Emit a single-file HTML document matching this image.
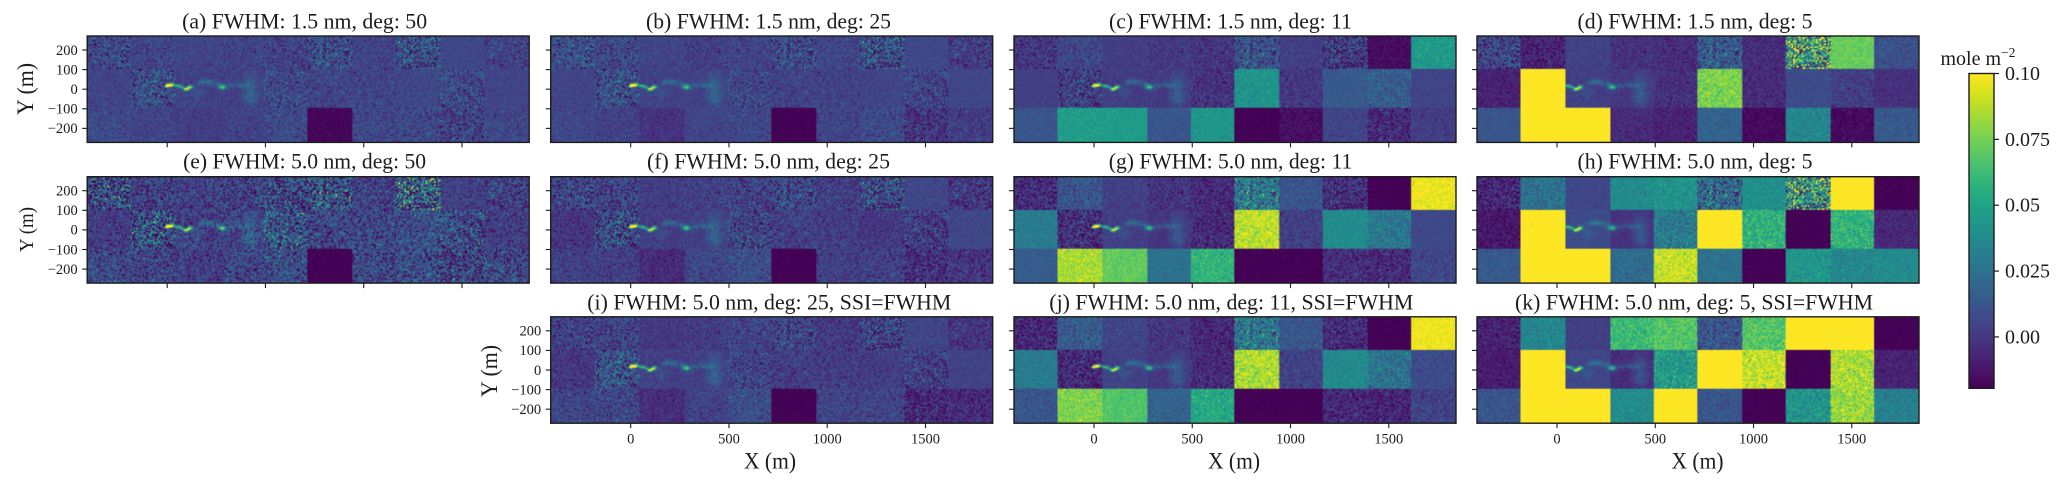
<!DOCTYPE html>
<html lang="en">
<head>
<meta charset="utf-8">
<title>Methane retrieval maps by FWHM and polynomial degree</title>
<style>
  html,body{margin:0;padding:0;background:#fff;}
  #figure{position:relative;width:2067px;height:485px;overflow:hidden;background:#fff;}
  #tile-layer,#overlay-layer{position:absolute;left:0;top:0;}
  #tile-layer{z-index:1;}
  canvas{position:absolute;z-index:2;}
  #overlay-layer{z-index:3;}
  text{font-family:"Liberation Serif",serif;fill:#1c1c1c;}
  .title{font-size:22px;text-anchor:middle;}
  .axis-label{font-size:23px;text-anchor:middle;}
  .tick-label{font-size:14.5px;}
  .cbar-label{font-size:20px;}
  .soft{filter:blur(0.3px);}
</style>
</head>
<body>
<div id="figure">
  <svg id="tile-layer" width="2067" height="485"></svg>
  <svg id="overlay-layer" width="2067" height="485">
    <defs><linearGradient id="cbar-gradient" x1="0" y1="1" x2="0" y2="0"></linearGradient></defs>
    <g id="axes-layer"></g>
    <g class="soft">
      <text class="title" x="304.6" y="28.3" textLength="245" lengthAdjust="spacingAndGlyphs">(a) FWHM: 1.5 nm, deg: 50</text>
      <text class="title" x="768.5" y="28.3" textLength="245" lengthAdjust="spacingAndGlyphs">(b) FWHM: 1.5 nm, deg: 25</text>
      <text class="title" x="1230.5" y="28.3" textLength="243" lengthAdjust="spacingAndGlyphs">(c) FWHM: 1.5 nm, deg: 11</text>
      <text class="title" x="1695" y="28.3" textLength="235" lengthAdjust="spacingAndGlyphs">(d) FWHM: 1.5 nm, deg: 5</text>
      <text class="title" x="304.6" y="168.3" textLength="243" lengthAdjust="spacingAndGlyphs">(e) FWHM: 5.0 nm, deg: 50</text>
      <text class="title" x="768.5" y="168.3" textLength="243" lengthAdjust="spacingAndGlyphs">(f) FWHM: 5.0 nm, deg: 25</text>
      <text class="title" x="1230.5" y="168.3" textLength="243.5" lengthAdjust="spacingAndGlyphs">(g) FWHM: 5.0 nm, deg: 11</text>
      <text class="title" x="1695" y="168.3" textLength="235" lengthAdjust="spacingAndGlyphs">(h) FWHM: 5.0 nm, deg: 5</text>
      <text class="title" x="769.3" y="309.7" textLength="364" lengthAdjust="spacingAndGlyphs">(i) FWHM: 5.0 nm, deg: 25, SSI=FWHM</text>
      <text class="title" x="1231.3" y="309.7" textLength="364" lengthAdjust="spacingAndGlyphs">(j) FWHM: 5.0 nm, deg: 11, SSI=FWHM</text>
      <text class="title" x="1694" y="309.7" textLength="358" lengthAdjust="spacingAndGlyphs">(k) FWHM: 5.0 nm, deg: 5, SSI=FWHM</text>
    </g>
    <g class="soft">
      <text class="axis-label" transform="translate(33,89) rotate(-90)" textLength="52" lengthAdjust="spacingAndGlyphs">Y (m)</text>
      <text class="axis-label" style="font-size:20px" transform="translate(33,229.5) rotate(-90)" textLength="45" lengthAdjust="spacingAndGlyphs">Y (m)</text>
      <text class="axis-label" transform="translate(497,371) rotate(-90)" textLength="52" lengthAdjust="spacingAndGlyphs">Y (m)</text>
      <text class="axis-label" x="770" y="468.3" textLength="52" lengthAdjust="spacingAndGlyphs">X (m)</text>
      <text class="axis-label" x="1234" y="468.3" textLength="52" lengthAdjust="spacingAndGlyphs">X (m)</text>
      <text class="axis-label" x="1697.5" y="468.3" textLength="52" lengthAdjust="spacingAndGlyphs">X (m)</text>
      <text class="cbar-label" x="1940.5" y="65">mole m<tspan dy="-8" font-size="13.5">−2</tspan></text>
    </g>
    <g id="colorbar-layer"></g>
  </svg>
</div>
<script>
// ---- Axis tick data ----
const xTicks = [0, 500, 1000, 1500];
const xTickLabels = ["0", "500", "1000", "1500"];
const yTicks = [200, 100, 0, -100, -200];
const yTickLabels = ["200", "100", "0", "−100", "−200"];
const colorbarTicks = [0.1, 0.075, 0.05, 0.025, 0];
const colorbarTickLabels = ["0.10", "0.075", "0.05", "0.025", "0.00"];

// ---- Tile data (mole m^-2): 3 rows x 10 columns, estimated by eye ----
const meanA = [[.007,.005,.005,.005,.004,.008,.005,.008,.006,.004],[.005,.008,.004,.003,.007,.005,.005,.006,.007,.005],[.007,.005,.002,.004,.007,-.018,.006,.006,.004,.006]];
const noiseA = [[.012,.007,.004,.006,.008,.014,.006,.018,.003,.008],[.004,.014,.004,.004,.010,.007,.007,.005,.011,.003],[.006,.005,.004,.005,.008,.002,.007,.008,.012,.006]];
const meanB = [[.010,.006,.005,.003,.005,.007,.006,.008,.007,.002],[.005,.008,.004,.004,.006,.004,.004,.005,.005,.006],[.006,.004,-.002,.005,.006,-.019,.005,.007,-.001,.002]];
const noiseB = [[.013,.010,.004,.006,.006,.013,.006,.020,.002,.009],[.003,.014,.003,.003,.009,.006,.006,.004,.010,.002],[.005,.005,.004,.004,.006,.001,.006,.007,.010,.006]];
const meanC = [[.000,.006,.002,.001,-.001,.010,.003,.000,-.016,.045],[.003,.002,.002,.001,-.002,.042,.000,.014,.016,.005],[.012,.047,.046,.012,.043,-.019,-.015,.005,-.005,.002]];
const noiseC = [[.008,.007,.003,.005,.006,.013,.004,.016,.003,.005],[.002,.012,.003,.003,.007,.005,.006,.003,.007,.002],[.003,.004,.003,.003,.004,.001,.004,.004,.009,.004]];
const meanD = [[.006,-.008,.004,-.002,-.004,.014,-.004,.045,.072,.010],[-.008,.125,.003,.000,-.003,.076,-.005,.008,.003,-.003],[.012,.130,.130,-.005,-.008,.018,-.017,.035,-.017,.014]];
const noiseD = [[.013,.007,.003,.005,.005,.014,.005,.040,.004,.005],[.004,.012,.003,.003,.005,.007,.005,.003,.006,.003],[.003,.005,.005,.004,.004,.004,.003,.006,.004,.004]];
const meanE = [[.008,.003,.003,.004,.006,.010,.004,.014,.003,.003],[.002,.008,.003,.004,.012,.005,.006,.009,.008,.002],[.006,.005,.002,.005,.008,-.019,.006,.008,.004,.006]];
const noiseE = [[.025,.013,.010,.014,.020,.025,.012,.035,.007,.012],[.008,.024,.010,.010,.022,.014,.014,.014,.018,.009],[.012,.012,.010,.012,.015,.001,.014,.015,.018,.014]];
const meanF = [[.006,.004,.002,.004,.004,.006,.003,.006,.006,.000],[-.001,.006,.002,.003,.005,.003,.002,.000,.002,.006],[.003,.003,-.005,.006,.009,-.019,.003,.003,-.003,-.001]];
const noiseF = [[.014,.012,.005,.007,.010,.014,.008,.020,.004,.010],[.006,.018,.004,.004,.013,.008,.007,.006,.012,.003],[.007,.007,.005,.007,.008,.001,.007,.008,.011,.008]];
const meanG = [[-.004,.012,.003,-.001,-.005,.028,.012,-.004,-.019,.098],[.030,-.004,.003,-.001,-.005,.088,.003,.038,.028,.007],[.015,.085,.071,.025,.058,-.019,-.019,-.004,-.005,.006]];
const noiseG = [[.010,.008,.004,.007,.007,.018,.005,.012,.001,.006],[.004,.012,.003,.003,.008,.008,.006,.004,.008,.002],[.003,.006,.004,.003,.006,.001,.001,.007,.008,.005]];
const meanH = [[-.006,.025,.006,.038,.042,.020,.040,.040,.130,-.019],[-.012,.125,.008,-.002,.030,.120,.057,-.019,.058,-.006],[.014,.130,.130,.022,.090,.025,-.019,.043,.036,.038]];
const noiseH = [[.010,.008,.002,.005,.006,.018,.005,.035,.005,.001],[.005,.012,.002,.002,.010,.003,.009,.001,.008,.004],[.004,.005,.005,.005,.008,.004,.001,.006,.006,.004]];
const meanI = [[.004,.004,.000,.002,.005,.005,.001,.003,.005,-.001],[.000,.010,.003,.003,.005,.002,.002,.002,.003,.004],[.005,.006,-.004,.004,.009,-.019,.005,.005,-.006,-.005]];
const noiseI = [[.010,.010,.004,.006,.008,.012,.007,.016,.004,.007],[.006,.016,.004,.004,.010,.007,.007,.006,.011,.003],[.008,.009,.005,.006,.008,.001,.007,.007,.010,.007]];
const meanJ = [[-.006,.015,.005,.000,-.006,.027,.013,-.005,-.019,.098],[.030,-.006,.004,.000,-.005,.085,.004,.037,.026,.008],[.012,.077,.067,.018,.052,-.019,-.019,-.006,-.007,.004]];
const noiseJ = [[.009,.008,.004,.006,.007,.016,.005,.010,.001,.004],[.004,.010,.003,.003,.007,.009,.006,.005,.009,.004],[.005,.006,.004,.004,.007,.001,.001,.008,.008,.006]];
const meanK = [[-.008,.035,.003,.062,.068,.012,.068,.130,.130,-.019],[-.010,.130,.006,-.004,.045,.130,.090,-.019,.085,-.008],[.012,.130,.130,.038,.130,.012,-.019,.042,.082,.032]];
const noiseK = [[.006,.006,.003,.007,.006,.010,.007,.005,.005,.001],[.004,.005,.002,.003,.010,.005,.010,.001,.009,.004],[.005,.005,.005,.005,.005,.005,.001,.008,.009,.005]];

// ---- Plume features: x (m), y (m), peak (mole m^-2), x spread (m), y spread (m) ----
const plumeX = [0, 12, 24, 42, 60, 78, 95, 108, 120, 155, 170, 190, 211, 245, 272, 288, 320, 364, 395, 424, 424, 430];
const plumeY = [15, 18, 22, 18, 15, 9, -2, 4, 12, -20, 32, 38, 37, 30, 12, 10, 18, 20, 18, -14, 30, -55];
const plumeAmp = [.14, .12, .09, .04, .06, .05, .10, .08, .07, .008, .014, .014, .014, .012, .04, .05, .012, .012, .010, .011, .007, .006];
const plumeSpreadX = [8, 8, 8, 9, 9, 8, 8, 8, 9, 22, 14, 14, 14, 18, 10, 10, 18, 18, 18, 26, 30, 22];
const plumeSpreadY = [5, 5, 5, 5, 5, 5, 5, 5, 6, 14, 8, 8, 8, 9, 9, 8, 8, 8, 8, 45, 32, 20];

// ---- Viridis anchors ----
const viridisStops = ["#440154","#481467","#482576","#453781","#404688","#39558c","#33638d","#2d718e","#287d8e","#238a8d","#1f968b","#20a386","#29af7f","#3cbc75","#56c667","#74d055","#94d840","#b8de29","#dce319","#fde725"];

// ---- Domain and layout ----
const colorMin = -0.0195, colorMax = 0.1;
const xMin = -407, xMax = 1842, yMin = -271.5, yMax = 271.5;
const tileWidth = (xMax - xMin) / 10;
const rowEdgeHigh = 105, rowEdgeLow = -93;
const colLeft = [87.2, 550.7, 1014, 1477];
const rowTop = [36, 176.7, 316.8];
const panelW = 442, panelH = 106.4;
const cellPx = 1.5;
const panels = [
  {id:"a",col:0,row:0,mean:meanA,noise:noiseA},{id:"b",col:1,row:0,mean:meanB,noise:noiseB},
  {id:"c",col:2,row:0,mean:meanC,noise:noiseC},{id:"d",col:3,row:0,mean:meanD,noise:noiseD},
  {id:"e",col:0,row:1,mean:meanE,noise:noiseE},{id:"f",col:1,row:1,mean:meanF,noise:noiseF},
  {id:"g",col:2,row:1,mean:meanG,noise:noiseG},{id:"h",col:3,row:1,mean:meanH,noise:noiseH},
  {id:"i",col:1,row:2,mean:meanI,noise:noiseI},{id:"j",col:2,row:2,mean:meanJ,noise:noiseJ},
  {id:"k",col:3,row:2,mean:meanK,noise:noiseK}
];

const SVGNS = "http://www.w3.org/2000/svg";
function svgEl(tag, attrs){
  const e = document.createElementNS(SVGNS, tag);
  for (const k in attrs) e.setAttribute(k, attrs[k]);
  return e;
}
function hexToRgb(h){return [parseInt(h.slice(1,3),16),parseInt(h.slice(3,5),16),parseInt(h.slice(5,7),16)];}
const viridisRgb = viridisStops.map(hexToRgb);
function colorFor(v){
  let t = (v - colorMin) / (colorMax - colorMin);
  t = Math.max(0, Math.min(1, t)) * (viridisRgb.length - 1);
  const i = Math.min(viridisRgb.length - 2, Math.floor(t)), f = t - i;
  const a = viridisRgb[i], b = viridisRgb[i + 1];
  return [a[0]+(b[0]-a[0])*f, a[1]+(b[1]-a[1])*f, a[2]+(b[2]-a[2])*f];
}
function cssColor(c){return "rgb(" + c.map(Math.round).join(",") + ")";}
function xScale(p, v){return colLeft[p.col] + (v - xMin) / (xMax - xMin) * panelW;}
function yScale(p, v){return rowTop[p.row] + (yMax - v) / (yMax - yMin) * panelH;}
function rowOf(y){return y > rowEdgeHigh ? 0 : (y > rowEdgeLow ? 1 : 2);}
function colOf(x){return Math.max(0, Math.min(9, Math.floor((x - xMin) / tileWidth)));}

// Deterministic fine-grain texture; its strength in each tile comes from the noise arrays.
function unitHash(i, j, salt){
  let h = (i * 374761393 + j * 668265263 + salt * 2147483647) | 0;
  h = Math.imul(h ^ (h >>> 13), 1274126177);
  h = Math.imul(h ^ (h >>> 16), 1911520717);
  return ((h ^ (h >>> 15)) >>> 0) / 4294967296;
}
function grain(i, j){
  const u = Math.max(1e-6, unitHash(i, j, 1)), w = unitHash(i, j, 2);
  return Math.sqrt(-2 * Math.log(u)) * Math.cos(6.283185 * w);
}
function plumeAt(x, y){
  let s = 0;
  for (let k = 0; k < plumeX.length; k++){
    const dx = (x - plumeX[k]) / plumeSpreadX[k], dy = (y - plumeY[k]) / plumeSpreadY[k];
    const q = dx * dx + dy * dy;
    if (q < 12) s += plumeAmp[k] * Math.exp(-0.5 * q);
  }
  return s;
}

const tileLayer = document.getElementById("tile-layer");
const axesLayer = document.getElementById("axes-layer");
const figure = document.getElementById("figure");

panels.forEach(function(p){
  const tileGroup = svgEl("g", {});
  
  
  tileLayer.appendChild(tileGroup);
  const rowEdges = [yMax, rowEdgeHigh, rowEdgeLow, yMin];

  p.mean.forEach(function(rowVals, r){
    rowVals.forEach(function(v, c){
      const x0 = xScale(p, xMin + c * tileWidth), x1 = xScale(p, xMin + (c + 1) * tileWidth);
      const y0 = yScale(p, rowEdges[r]), y1 = yScale(p, rowEdges[r + 1]);
      const tile = svgEl("rect", {x:x0, y:y0, width:x1 - x0, height:y1 - y0, fill:cssColor(colorFor(v))});
      
      
      tileGroup.appendChild(tile);
    });
  });

  // Per-cell field: tile mean + tile noise x grain + plume
  const canvas = document.createElement("canvas");
  
  
  const nx = Math.round(panelW / cellPx), ny = Math.round(panelH / cellPx);
  canvas.width = nx; canvas.height = ny;
  canvas.style.left = colLeft[p.col] + "px";
  canvas.style.top = rowTop[p.row] + "px";
  canvas.style.width = panelW + "px";
  canvas.style.height = panelH + "px";
  const ctx = canvas.getContext("2d");
  const img = ctx.createImageData(nx, ny);
  for (let j = 0; j < ny; j++){
    const y = yMax - (j + 0.5) / ny * (yMax - yMin);
    for (let i = 0; i < nx; i++){
      const x = xMin + (i + 0.5) / nx * (xMax - xMin);
      const r = rowOf(y), c = colOf(x);
      const v = p.mean[r][c] + p.noise[r][c] * grain(i, j) + plumeAt(x, y);
      const rgb = colorFor(v), o = (j * nx + i) * 4;
      img.data[o] = rgb[0]; img.data[o + 1] = rgb[1]; img.data[o + 2] = rgb[2]; img.data[o + 3] = 255;
    }
  }
  ctx.putImageData(img, 0, 0);
  figure.appendChild(canvas);

  // Frame and ticks
  const frame = svgEl("rect", {x:colLeft[p.col], y:rowTop[p.row], width:panelW, height:panelH, fill:"none", stroke:"#1c1c1c", "stroke-width":1.4});
  
  
  axesLayer.appendChild(frame);

  const bottom = rowTop[p.row] + panelH;
  xTicks.forEach(function(v, idx){
    const px = xScale(p, v);
    const tick = svgEl("line", {x1:px, x2:px, y1:bottom, y2:bottom + 5, stroke:"#1c1c1c", "stroke-width":1.1});
    
    
    axesLayer.appendChild(tick);
    if (p.row === 2){
      const label = svgEl("text", {x:px, y:bottom + 20.5, "text-anchor":"middle", "class":"tick-label soft"});
      label.textContent = xTickLabels[idx];
      
      
      axesLayer.appendChild(label);
    }
  });
  yTicks.forEach(function(v, idx){
    const py = yScale(p, v), left = colLeft[p.col];
    const tick = svgEl("line", {x1:left - 5, x2:left, y1:py, y2:py, stroke:"#1c1c1c", "stroke-width":1.1});
    
    
    axesLayer.appendChild(tick);
    if (p.col === 0 || (p.col === 1 && p.row === 2)){
      const label = svgEl("text", {x:left - 9.5, y:py + 4.8, "text-anchor":"end", "class":"tick-label soft"});
      label.textContent = yTickLabels[idx];
      
      
      axesLayer.appendChild(label);
    }
  });
});

// Colorbar
const cbarLayer = document.getElementById("colorbar-layer");
const cbarGradient = document.getElementById("cbar-gradient");
viridisStops.forEach(function(hex, i){
  cbarGradient.appendChild(svgEl("stop", {offset:i / (viridisStops.length - 1), "stop-color":hex}));
});
const cbarX = 1969, cbarW = 25, cbarTop = 73.5, cbarBottom = 388.3;
function cbarScale(v){return cbarBottom - (v - colorMin) / (colorMax - colorMin) * (cbarBottom - cbarTop);}
const cbarRect = svgEl("rect", {x:cbarX, y:cbarTop, width:cbarW, height:cbarBottom - cbarTop, fill:"url(#cbar-gradient)", stroke:"#1c1c1c", "stroke-width":1.4});


cbarLayer.appendChild(cbarRect);
colorbarTicks.forEach(function(v, idx){
  const py = cbarScale(v);
  const tick = svgEl("line", {x1:cbarX + cbarW, x2:cbarX + cbarW + 5, y1:py, y2:py, stroke:"#1c1c1c", "stroke-width":1.2});
  
  
  cbarLayer.appendChild(tick);
  const label = svgEl("text", {x:2005, y:py + 6.5, "class":"cbar-label soft"});
  label.textContent = colorbarTickLabels[idx];
  
  
  cbarLayer.appendChild(label);
});
</script>
</body>
</html>
